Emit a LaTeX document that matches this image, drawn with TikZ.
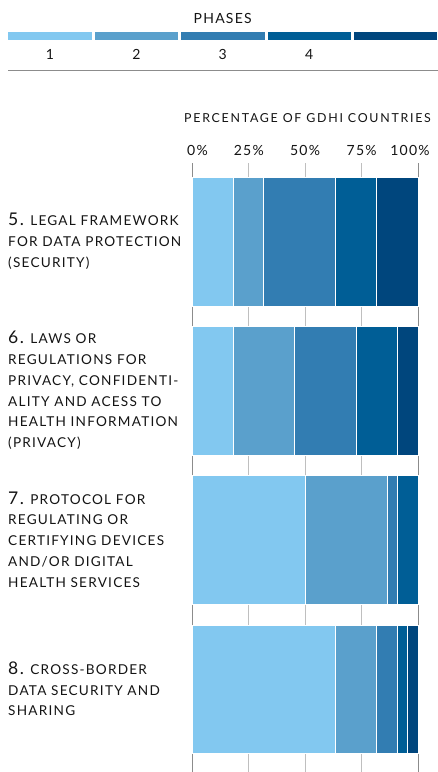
\documentclass[tikz,border=0pt]{standalone}
\usepackage{fontspec}
\setmainfont{Lato}[LetterSpace=9]

\definecolor{pone}{HTML}{82C8F0}
\definecolor{ptwo}{HTML}{5AA0CC}
\definecolor{pthree}{HTML}{327DB2}
\definecolor{pfour}{HTML}{005E96}
\definecolor{pfive}{HTML}{00467D}
\definecolor{axisgray}{HTML}{8C8C8C}

\tikzset{
  seg/.style={draw=white,line width=1pt},
  gridline/.style={axisgray,line width=1pt},
  rowlabel/.style={anchor=west,align=left,inner sep=0,text=black!92,
    font=\fontsize{13.6}{20.8}\selectfont},
  ticklabel/.style={inner sep=0,text=black!92,font=\fontsize{14}{14}\selectfont},
}

\newcommand{\bignum}[1]{{\fontsize{17.5}{20.8}\selectfont #1}}

\begin{document}
\begin{tikzpicture}[x=1pt,y=-1pt]

\useasboundingbox (0,0) rectangle (438,772);

% legend
\node [ticklabel] (phases) at (222.7,18) {PHASES};
\foreach \i/\c in {0/pone,1/ptwo,2/pthree,3/pfour,4/pfive}
  \fill [\c] ({8.3+86.4*\i},31.7) rectangle +(83.4,8.4);
\foreach \i in {1,2,3,4}
  \node [ticklabel] (ph\i) at ({50+86.4*(\i-1)},54.5) {\i};
\draw [axisgray,line width=1pt] (8,70.3) -- (438,70.3);

% axis
\node [ticklabel,font=\fontsize{12.4}{12.4}\selectfont\addfontfeature{LetterSpace=14}] (axtitle) at (307.5,118) {PERCENTAGE OF GDHI COUNTRIES};
\node [ticklabel] (t0) at (197.5,150.5) {0\%};
\node [ticklabel] (t25) at (248.8,150.5) {25\%};
\node [ticklabel] (t50) at (305,150.5) {50\%};
\node [ticklabel] (t75) at (361.7,150.5) {75\%};
\node [ticklabel] (t100) at (410,150.5) {100\%};

\draw [gridline,gray!90] (192.5,163) -- (192.5,772);
\draw [gridline,gray!50] (248.7,163) -- (248.7,772);
\draw [gridline,gray!50] (305.3,163) -- (305.3,772);
\draw [gridline,gray!50] (361.7,163) -- (361.7,772);
\draw [gridline,gray!90] (418,163) -- (418,772);

% bars (counts out of 22)
\foreach \a/\b/\c in {0/4/pone,4/7/ptwo,7/14/pthree,14/18/pfour,18/22/pfive}
  \draw [seg,fill=\c] ({192+226*\a/22},177) rectangle ({192+226*\b/22},306);
\foreach \a/\b/\c in {0/4/pone,4/10/ptwo,10/16/pthree,16/20/pfour,20/22/pfive}
  \draw [seg,fill=\c] ({192+226*\a/22},326) rectangle ({192+226*\b/22},455);
\foreach \a/\b/\c in {0/11/pone,11/19/ptwo,19/20/pthree,20/22/pfour}
  \draw [seg,fill=\c] ({192+226*\a/22},475) rectangle ({192+226*\b/22},604);
\foreach \a/\b/\c in {0/14/pone,14/18/ptwo,18/20/pthree,20/21/pfour,21/22/pfive}
  \draw [seg,fill=\c] ({192+226*\a/22},625) rectangle ({192+226*\b/22},753);

% row labels
\node [rowlabel] (lab5) at (8,241.5) {\bignum{5.} LEGAL FRAMEWORK\\FOR DATA PROTECTION\\(SECURITY)};
\node [rowlabel] (lab6) at (8,390.5) {\bignum{6.} LAWS OR\\REGULATIONS FOR\\PRIVACY, CONFIDENTI-\\ALITY AND ACESS TO\\HEALTH INFORMATION\\(PRIVACY)};
\node [rowlabel] (lab7) at (8,539.5) {\bignum{7.} PROTOCOL FOR\\REGULATING OR\\CERTIFYING DEVICES\\AND/OR DIGITAL\\HEALTH SERVICES};
\node [rowlabel] (lab8) at (8,688.8) {\bignum{8.} CROSS-BORDER\\DATA SECURITY AND\\SHARING};

\end{tikzpicture}
\end{document}
